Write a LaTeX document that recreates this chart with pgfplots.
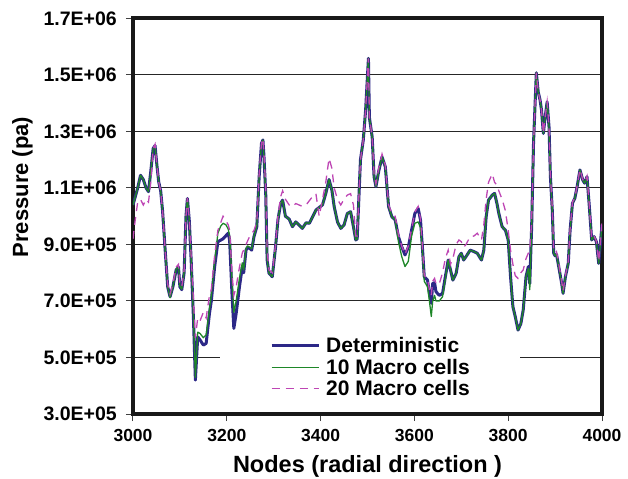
\documentclass[border=0pt]{standalone}
\usepackage{fontspec}
\setmainfont{Liberation Sans}
\usepackage{pgfplots}
\pgfplotsset{compat=1.18}
\usepackage{pgfplotstable}
\definecolor{detc}{RGB}{44,40,135}
\definecolor{tenc}{RGB}{30,135,40}
\definecolor{twec}{RGB}{190,70,180}

\pgfplotstableread{
x y
3000 1040000
3005 1070000
3010 1100000
3016 1145000
3022 1130000
3028 1100000
3033 1087000
3038 1160000
3043 1240000
3047 1250000
3051 1180000
3055 1120000
3059 1090000
3063 1020000
3069 870000
3074 750000
3079 715000
3085 750000
3092 810000
3097 820000
3100 750000
3104 740000
3109 800000
3113 1000000
3116 1063000
3120 985000
3124 845000
3129 633000
3133 420000
3138 573000
3143 562000
3150 544000
3156 550000
3163 656000
3167 700000
3174 820000
3181 910000
3192 920000
3203 940000
3206 916000
3211 727000
3215 603000
3220 656000
3227 750000
3233 820000
3236 800000
3241 880000
3244 890000
3249 886000
3253 880000
3258 928000
3264 963000
3269 1140000
3274 1258000
3277 1270000
3279 1220000
3283 1080000
3286 845000
3290 798000
3297 786000
3304 892000
3309 987000
3315 1046000
3319 1057000
3325 1000000
3333 990000
3340 963000
3347 980000
3354 969000
3361 957000
3369 977000
3376 975000
3383 998000
3390 1022000
3404 1040000
3411 1080000
3418 1130000
3424 1093000
3429 1034000
3436 980000
3443 957000
3450 969000
3457 1010000
3464 1016000
3470 963000
3475 916000
3478 920000
3485 1200000
3491 1270000
3496 1376000
3502 1559000
3504 1350000
3510 1280000
3514 1140000
3518 1105000
3524 1160000
3531 1210000
3538 1175000
3545 1034000
3552 998000
3559 987000
3566 928000
3573 892000
3580 863000
3587 890000
3594 951000
3601 1010000
3608 1028000
3613 987000
3617 892000
3621 786000
3628 774000
3632 727000
3636 692000
3639 762000
3643 765000
3646 733000
3653 720000
3660 727000
3666 786000
3672 845000
3677 810000
3682 774000
3689 798000
3695 857000
3700 869000
3705 845000
3710 857000
3719 880000
3727 875000
3734 869000
3743 845000
3748 880000
3753 998000
3758 1057000
3766 1075000
3771 1081000
3776 1045000
3780 1010000
3787 963000
3794 951000
3800 916000
3805 786000
3810 680000
3815 645000
3821 597000
3827 620000
3832 668000
3838 786000
3843 822000
3846 762000
3850 963000
3854 1260000
3860 1508000
3864 1440000
3868 1411000
3871 1376000
3875 1293000
3878 1340000
3883 1405000
3887 1317000
3890 1140000
3894 1022000
3897 869000
3900 860000
3903 865000
3909 810000
3914 762000
3917 727000
3922 786000
3928 833000
3932 951000
3937 1046000
3942 1063000
3947 1105000
3953 1164000
3959 1128000
3963 1117000
3968 1140000
3973 1034000
3978 916000
3983 928000
3988 910000
3993 833000
4000 970000
}\detdata

\pgfplotstableread{
x y
3000 1040000
3005 1070000
3010 1100000
3016 1145000
3022 1130000
3028 1100000
3033 1087000
3038 1160000
3043 1240000
3047 1250000
3051 1180000
3055 1120000
3059 1090000
3063 1020000
3069 870000
3074 750000
3079 712000
3085 750000
3092 812000
3097 822000
3100 752000
3104 742000
3109 802000
3113 1000000
3116 1063000
3120 985000
3124 845000
3129 640000
3133 430000
3138 590000
3143 585000
3150 570000
3156 580000
3163 670000
3167 720000
3174 840000
3181 940000
3187 965000
3192 975000
3198 970000
3203 955000
3206 930000
3211 780000
3215 660000
3220 700000
3227 780000
3233 835000
3236 810000
3241 885000
3244 895000
3249 890000
3253 885000
3258 930000
3264 965000
3269 1140000
3274 1258000
3277 1270000
3279 1220000
3283 1080000
3286 845000
3290 798000
3297 786000
3304 892000
3309 987000
3315 1046000
3319 1057000
3325 1000000
3333 990000
3340 963000
3347 980000
3354 969000
3361 957000
3369 977000
3376 975000
3383 998000
3390 1022000
3404 1040000
3411 1080000
3418 1130000
3424 1093000
3429 1034000
3436 980000
3443 957000
3450 969000
3457 1010000
3464 1016000
3470 963000
3475 916000
3478 920000
3485 1200000
3491 1270000
3496 1376000
3502 1559000
3504 1350000
3510 1280000
3514 1140000
3518 1105000
3524 1160000
3531 1210000
3538 1175000
3545 1034000
3552 998000
3559 987000
3566 910000
3573 857000
3580 822000
3587 840000
3594 930000
3601 975000
3608 980000
3613 960000
3617 880000
3621 770000
3628 750000
3632 700000
3636 645000
3639 700000
3643 720000
3646 700000
3653 700000
3660 715000
3666 780000
3672 845000
3677 810000
3682 774000
3689 798000
3695 857000
3700 869000
3705 845000
3710 857000
3719 880000
3727 875000
3734 869000
3743 845000
3748 880000
3753 998000
3758 1057000
3766 1075000
3771 1081000
3776 1045000
3780 1010000
3787 963000
3794 951000
3800 916000
3805 786000
3810 680000
3815 645000
3821 597000
3827 620000
3832 668000
3838 786000
3843 815000
3846 740000
3850 963000
3854 1260000
3860 1508000
3864 1440000
3868 1411000
3871 1376000
3875 1293000
3878 1340000
3883 1405000
3887 1317000
3890 1140000
3894 1022000
3897 869000
3900 860000
3903 865000
3909 810000
3914 762000
3917 727000
3922 786000
3928 833000
3932 951000
3937 1046000
3942 1063000
3947 1105000
3953 1164000
3959 1128000
3963 1117000
3968 1140000
3973 1034000
3978 916000
3983 928000
3988 910000
3993 833000
4000 970000
}\tendata

\pgfplotstableread{
x y
3000 920000
3005 990000
3010 1050000
3016 1060000
3022 1040000
3028 1060000
3033 1050000
3038 1120000
3043 1240000
3047 1255000
3051 1180000
3055 1120000
3059 1090000
3063 1020000
3069 870000
3074 760000
3079 725000
3085 760000
3092 820000
3097 830000
3100 760000
3104 750000
3109 810000
3113 1000000
3116 1065000
3120 990000
3124 860000
3129 700000
3133 570000
3138 640000
3143 630000
3150 660000
3156 640000
3163 720000
3167 740000
3174 860000
3181 950000
3192 1000000
3203 970000
3206 950000
3211 800000
3215 720000
3220 750000
3227 820000
3233 870000
3241 900000
3249 930000
3258 950000
3264 980000
3269 1150000
3274 1260000
3277 1275000
3279 1230000
3283 1100000
3286 880000
3290 810000
3297 800000
3304 900000
3309 1000000
3315 1070000
3319 1090000
3325 1060000
3333 1040000
3340 1034000
3347 1045000
3354 1040000
3361 1035000
3369 1040000
3376 1055000
3383 1070000
3390 1080000
3397 1000000
3404 1060000
3411 1120000
3418 1205000
3424 1170000
3429 1100000
3436 1060000
3443 1040000
3450 1060000
3457 1075000
3464 1080000
3470 1040000
3475 930000
3478 930000
3485 1200000
3491 1270000
3496 1376000
3502 1559000
3504 1350000
3510 1280000
3514 1150000
3518 1115000
3524 1170000
3531 1220000
3538 1180000
3545 1040000
3552 1010000
3559 1000000
3566 935000
3573 895000
3580 865000
3587 895000
3594 955000
3601 1015000
3608 1035000
3613 990000
3617 895000
3621 790000
3628 780000
3632 740000
3636 720000
3639 770000
3643 780000
3646 760000
3653 760000
3660 800000
3666 850000
3672 880000
3677 830000
3682 850000
3689 900000
3695 916000
3700 910000
3705 890000
3710 900000
3719 928000
3727 930000
3734 940000
3743 916000
3748 970000
3753 1060000
3758 1120000
3766 1150000
3771 1120000
3776 1110000
3780 1090000
3787 1060000
3794 1020000
3800 950000
3805 880000
3810 830000
3815 790000
3821 780000
3827 800000
3832 810000
3838 850000
3843 870000
3846 880000
3850 980000
3854 1260000
3860 1508000
3864 1440000
3868 1411000
3871 1376000
3875 1293000
3878 1340000
3883 1405000
3887 1317000
3890 1145000
3894 1030000
3897 880000
3900 870000
3903 875000
3909 820000
3914 770000
3917 735000
3922 790000
3928 840000
3932 955000
3937 1050000
3942 1065000
3947 1108000
3953 1166000
3959 1130000
3963 1120000
3968 1142000
3973 1038000
3978 920000
3983 930000
3988 912000
3993 840000
4000 975000
}\twedata

\begin{document}
\begin{tikzpicture}
\useasboundingbox (-133bp,-65bp) rectangle (495bp,414bp);
\begin{axis}[
  at={(0,0)}, anchor=south west,
  scale only axis, width=469bp, height=395.5bp,
  xmin=3000, xmax=4000, ymin=300000, ymax=1700000,
  scaled ticks=false,
  xtick={3000,3200,3400,3600,3800,4000},
  xticklabels={3000,3200,3400,3600,3800,4000},
  ytick={300000,500000,700000,900000,1100000,1300000,1500000,1700000},
  yticklabels={3.0E+05,5.0E+05,7.0E+05,9.0E+05,1.1E+06,1.3E+06,1.5E+06,1.7E+06},
  tick pos=left, tick align=outside, major tick length=7bp,
  tick style={black!75, line width=1bp},
  ymajorgrids, major grid style={black!85, line width=1bp},
  axis line style={line width=4bp, black!90},
  xticklabel style={font=\fontsize{17.5bp}{20bp}\selectfont\bfseries, inner sep=0pt, anchor=north, yshift=-8bp},
  yticklabel style={font=\fontsize{19.5bp}{22bp}\selectfont\bfseries, inner sep=0pt, anchor=east, xshift=-9bp},
  xlabel={Nodes (radial direction )},
  ylabel={Pressure (pa)},
  xlabel style={font=\fontsize{23.5bp}{26bp}\selectfont\bfseries, at={(axis description cs:0.5,-0.1315)}, anchor=center},
  ylabel style={font=\fontsize{22bp}{25bp}\selectfont\bfseries, at={(axis description cs:-0.2356,0.574)}, anchor=center},
  legend cell align=left,
  legend image code/.code={\draw[#1] (0bp,0bp) -- (47bp,0bp);},
  legend style={at={(axis description cs:0.1855,0.2048)}, anchor=north west,
    fill=white, draw=none, inner xsep=50bp, inner ysep=4.5bp,
    row sep=5.5bp, column sep=6bp,
    font=\fontsize{21bp}{25bp}\selectfont\bfseries,
    nodes={inner sep=0pt, text height=15bp, text depth=1bp}},
]
\addplot[detc, line width=3bp, line join=round] table[x=x,y=y] {\detdata};
\addlegendentry{Deterministic}
\addplot[tenc, line width=1.3bp, line join=round] table[x=x,y=y] {\tendata};
\addlegendentry{10 Macro cells}
\addplot[twec, line width=1.3bp, dash pattern=on 8bp off 6bp] table[x=x,y=y] {\twedata};
\addlegendentry{20 Macro cells}
\end{axis}
\end{tikzpicture}
\end{document}
